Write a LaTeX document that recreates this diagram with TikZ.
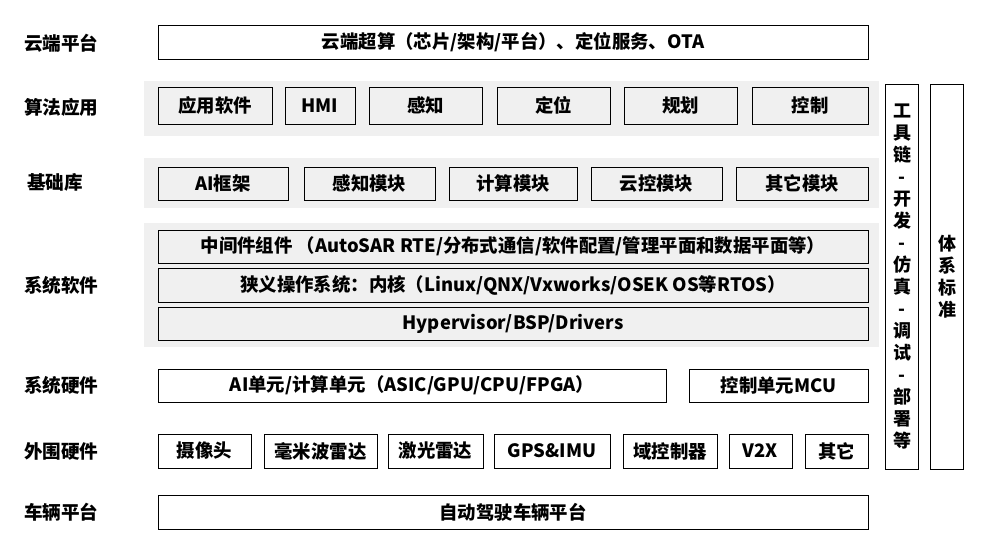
\documentclass[tikz,border=0pt]{standalone}
\usepackage{fontspec}
\setmainfont{Noto Sans CJK SC}
\usepackage{tikz}

\begin{document}
\begin{tikzpicture}[x=1pt,y=-1pt,
    blk/.style={draw=black, line width=0.8pt, fill=white, inner sep=0pt, font=\bfseries\fontsize{18.4}{21}\selectfont},
    gblk/.style={blk, fill=black!6},
    lbl/.style={anchor=west, inner sep=0pt, font=\bfseries\fontsize{18.6}{21}\selectfont},
    vblk/.style={draw=black, line width=0.8pt, fill=white, inner sep=0pt, minimum width=33pt, minimum height=385pt, align=center, font=\bfseries\fontsize{18}{22}\selectfont}]
               \useasboundingbox (0,0) rectangle (989,540);
               % grey bands
               \fill[black!6] (144,81) rectangle (879,136);
               \fill[black!6] (144,158) rectangle (879,208);
               \fill[black!6] (144,223) rectangle (879,347);
               % layer names
               \node[lbl] (cloudlbl) at (24,43) {云端平台};
               \node[lbl] (algolbl) at (24,107) {算法应用};
               \node[lbl] (liblbl) at (27,182) {基础库};
               \node[lbl] (swlbl) at (24,285) {系统软件};
               \node[lbl] (hwlbl) at (24,385) {系统硬件};
               \node[lbl] (perilbl) at (24,451) {外围硬件};
               \node[lbl] (vehlbl) at (24,512) {车辆平台};
               % cloud
               \node[blk, minimum width=710pt, minimum height=34pt] (cloud) at (513,42) {云端超算（芯片/架构/平台）、定位服务、OTA};
               % algorithms
               \node[gblk, minimum width=114pt, minimum height=37pt] (app) at (215,105.5) {应用软件};
               \node[gblk, minimum width=70pt, minimum height=37pt] (hmi) at (320,105.5) {HMI};
               \node[gblk, minimum width=113pt, minimum height=37pt] (percep) at (425.5,105.5) {感知};
               \node[gblk, minimum width=113pt, minimum height=37pt] (loc) at (553.5,105.5) {定位};
               \node[gblk, minimum width=113pt, minimum height=37pt] (plan) at (680.5,105.5) {规划};
               \node[gblk, minimum width=116pt, minimum height=37pt] (ctrl) at (810,105.5) {控制};
               % libraries
               \node[gblk, minimum width=130pt, minimum height=33pt] (aifw) at (223,183.5) {AI框架};
               \node[gblk, minimum width=131pt, minimum height=33pt] (percmod) at (369.5,183.5) {感知模块};
               \node[gblk, minimum width=128pt, minimum height=33pt] (compmod) at (513,183.5) {计算模块};
               \node[gblk, minimum width=131pt, minimum height=33pt] (cloudmod) at (656.5,183.5) {云控模块};
               \node[gblk, minimum width=132pt, minimum height=33pt] (othermod) at (802,183.5) {其它模块};
               % system software
               \node[gblk, minimum width=710pt, minimum height=33pt] (mw) at (513,246.5) {中间件组件 （AutoSAR RTE/分布式通信/软件配置/管理平面和数据平面等）};
               \node[gblk, minimum width=710pt, minimum height=34pt] (os) at (513,285) {狭义操作系统：内核（Linux/QNX/Vxworks/OSEK OS等RTOS）};
               \node[gblk, minimum width=710pt, minimum height=33pt] (hyp) at (513,323.5) {Hypervisor/BSP/Drivers};
               % system hardware
               \node[blk, minimum width=508pt, minimum height=33pt] (aiunit) at (412,385.5) {AI单元/计算单元（ASIC/GPU/CPU/FPGA）};
               \node[blk, minimum width=179pt, minimum height=33pt] (mcu) at (778.5,385.5) {控制单元MCU};
               % peripherals
               \node[blk, minimum width=93pt, minimum height=34pt] (cam) at (204.5,451) {摄像头};
               \node[blk, minimum width=113pt, minimum height=34pt] (mmw) at (320.5,451) {毫米波雷达};
               \node[blk, minimum width=95pt, minimum height=34pt] (lidar) at (435.5,451) {激光雷达};
               \node[blk, minimum width=116pt, minimum height=34pt] (gps) at (552,451) {GPS\&IMU};
               \node[blk, minimum width=94pt, minimum height=34pt] (dcu) at (670,451) {域控制器};
               \node[blk, minimum width=63pt, minimum height=34pt] (vtx) at (760.5,451) {V2X};
               \node[blk, minimum width=63pt, minimum height=34pt] (otherhw) at (836.5,451) {其它};
               % vehicle
               \node[blk, minimum width=710pt, minimum height=34pt] (veh) at (513,512) {自动驾驶车辆平台};
               % side columns
               \node[vblk] (tools) at (902,277) {工\\具\\链\\-\\开\\发\\-\\仿\\真\\-\\调\\试\\-\\部\\署\\等};
               \node[vblk] (std) at (947,277) {体\\系\\标\\准};
\end{tikzpicture}
\end{document}
